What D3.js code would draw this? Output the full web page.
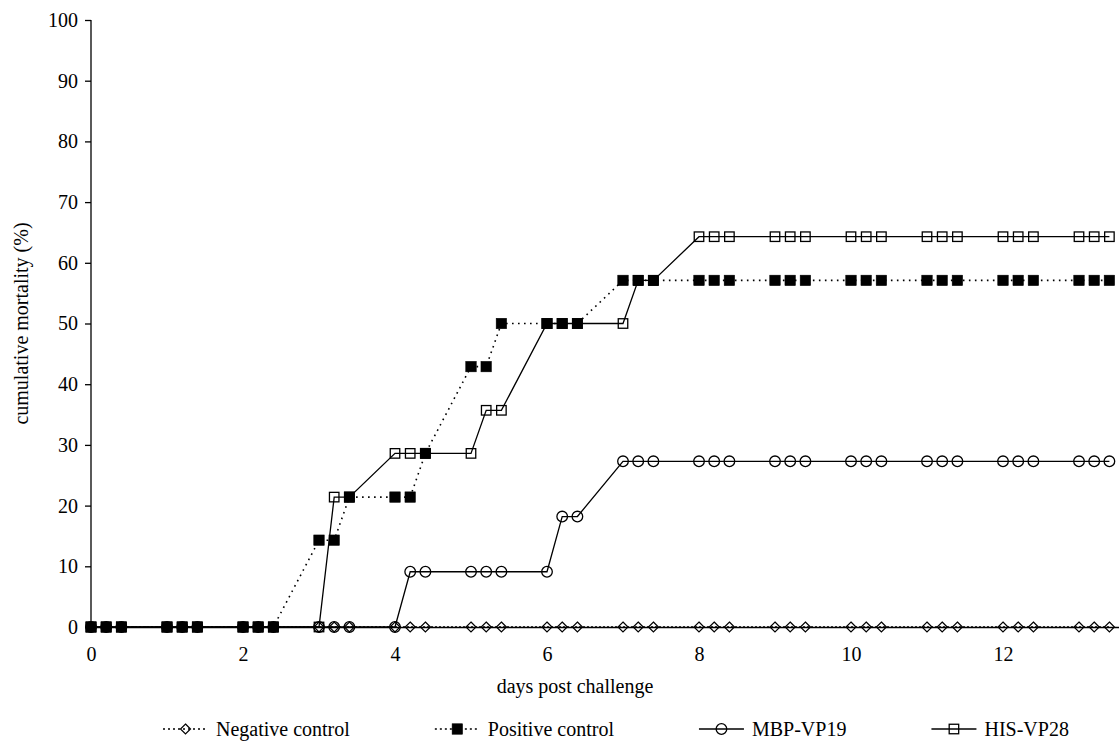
<!DOCTYPE html>
<html>
<head>
<meta charset="utf-8">
<script src="https://cdn.jsdelivr.net/npm/d3@7"></script>
<style>
  html, body { margin: 0; padding: 0; background: #fff; }
  svg { display: block; }
  text { font-family: "Liberation Serif", "Times New Roman", serif; fill: #000; }
</style>
</head>
<body>
<svg id="chart" width="1119" height="742"></svg>
<script>
// Sampling times (days post challenge), three readings per day
const days = [
  0, 0.2, 0.4, 1, 1.2, 1.4, 2, 2.2, 2.4, 3, 3.2, 3.4, 4, 4.2, 4.4,
  5, 5.2, 5.4, 6, 6.2, 6.4, 7, 7.2, 7.4, 8, 8.2, 8.4, 9, 9.2, 9.4,
  10, 10.2, 10.4, 11, 11.2, 11.4, 12, 12.2, 12.4, 13, 13.2, 13.4
];

// Cumulative mortality (%) per group
const negativeControl = [
  0, 0, 0, 0, 0, 0, 0, 0, 0, 0, 0, 0, 0, 0, 0,
  0, 0, 0, 0, 0, 0, 0, 0, 0, 0, 0, 0, 0, 0, 0,
  0, 0, 0, 0, 0, 0, 0, 0, 0, 0, 0, 0
];
const positiveControl = [
  0, 0, 0, 0, 0, 0, 0, 0, 0, 14.3, 14.3, 21.4, 21.4, 21.4, 28.6,
  42.9, 42.9, 50, 50, 50, 50, 57.1, 57.1, 57.1, 57.1, 57.1, 57.1, 57.1, 57.1, 57.1,
  57.1, 57.1, 57.1, 57.1, 57.1, 57.1, 57.1, 57.1, 57.1, 57.1, 57.1, 57.1
];
const mbpVP19 = [
  0, 0, 0, 0, 0, 0, 0, 0, 0, 0, 0, 0, 0, 9.1, 9.1,
  9.1, 9.1, 9.1, 9.1, 18.2, 18.2, 27.3, 27.3, 27.3, 27.3, 27.3, 27.3, 27.3, 27.3, 27.3,
  27.3, 27.3, 27.3, 27.3, 27.3, 27.3, 27.3, 27.3, 27.3, 27.3, 27.3, 27.3
];
const hisVP28 = [
  0, 0, 0, 0, 0, 0, 0, 0, 0, 0, 21.4, 21.4, 28.6, 28.6, 28.6,
  28.6, 35.7, 35.7, 50, 50, 50, 50, 57.1, 57.1, 64.3, 64.3, 64.3, 64.3, 64.3, 64.3,
  64.3, 64.3, 64.3, 64.3, 64.3, 64.3, 64.3, 64.3, 64.3, 64.3, 64.3, 64.3
];

const xTicks = [0, 2, 4, 6, 8, 10, 12];
const yTicks = [0, 10, 20, 30, 40, 50, 60, 70, 80, 90, 100];
const seriesNames = ["Negative control", "Positive control", "MBP-VP19", "HIS-VP28"];

// Series styling; drawing order keeps the filled squares on top
const series = [
  { name: seriesNames[0], values: negativeControl, marker: "diamond", dash: "2,2", fill: "none" },
  { name: seriesNames[2], values: mbpVP19, marker: "circle", dash: null, fill: "none" },
  { name: seriesNames[3], values: hisVP28, marker: "square", dash: null, fill: "none" },
  { name: seriesNames[1], values: positiveControl, marker: "square", dash: "1.6,4.4", fill: "#000" }
];

const svg = d3.select("#chart");
const x = d3.scaleLinear().domain([0, 13.6]).range([91, 91 + 13.6 * 76]);
const y = d3.scaleLinear().domain([0, 100]).range([627, 20]);

// Y axis
const yAxis = svg.append("g")
  .attr("transform", `translate(${x(0)},0)`)
  .call(d3.axisLeft(y).tickValues(yTicks).tickSize(6).tickPadding(7).tickFormat(d3.format("d")));
yAxis.selectAll("path, line").attr("stroke", "#000").attr("stroke-width", 1.3);
yAxis.select(".domain").attr("d", `M-0,${y(100)}V${y(0)}`);
yAxis.selectAll("text").style("font-size", "20px").style("font-family", "Liberation Serif");

// X axis (baseline line + labels, no tick marks)
const xAxis = svg.append("g")
  .attr("transform", `translate(0,${y(0)})`)
  .call(d3.axisBottom(x).tickValues(xTicks).tickSize(0).tickPadding(20).tickFormat(d3.format("d")));
xAxis.select(".domain").attr("stroke", "#000").attr("stroke-width", 1.3);
xAxis.selectAll("text").style("font-size", "20px").style("font-family", "Liberation Serif");

// Axis titles
svg.append("text")
  .attr("x", 575).attr("y", 693)
  .attr("text-anchor", "middle")
  .style("font-size", "20px")
  .text("days post challenge");

svg.append("text")
  .attr("transform", `translate(28,${(y(0) + y(100)) / 2}) rotate(-90)`)
  .attr("text-anchor", "middle")
  .style("font-size", "20px")
  .text("cumulative mortality (%)");

function drawMarker(g, type, fill, cx, cy) {
  if (type === "circle") {
    g.append("circle").attr("cx", cx).attr("cy", cy).attr("r", 5.3)
      .attr("fill", fill).attr("stroke", "#000").attr("stroke-width", 1.3);
  } else if (type === "square") {
    const s = fill === "none" ? 9.5 : 10.5;
    g.append("rect").attr("x", cx - s / 2).attr("y", cy - s / 2).attr("width", s).attr("height", s)
      .attr("fill", fill).attr("stroke", "#000").attr("stroke-width", fill === "none" ? 1.3 : 0.5);
  } else {
    const r = 5;
    g.append("path").attr("d", `M${cx},${cy - r}L${cx + r},${cy}L${cx},${cy + r}L${cx - r},${cy}Z`)
      .attr("fill", fill).attr("stroke", "#000").attr("stroke-width", 1.2);
  }
}

const line = d3.line().x((d, i) => x(days[i])).y(d => y(d));

series.forEach(s => {
  const g = svg.append("g");
  g.append("path")
    .attr("d", line(s.values))
    .attr("fill", "none")
    .attr("stroke", "#000")
    .attr("stroke-width", s.dash ? 1.6 : 1.3)
    .attr("stroke-dasharray", s.dash);
  s.values.forEach((v, i) => drawMarker(g, s.marker, s.fill, x(days[i]), y(v)));
});

// Legend along the bottom
const legendOrder = [
  { name: seriesNames[0], marker: "diamond", dash: "2,3", fill: "none" },
  { name: seriesNames[1], marker: "square", dash: "2,3", fill: "#000" },
  { name: seriesNames[2], marker: "circle", dash: null, fill: "none" },
  { name: seriesNames[3], marker: "square", dash: null, fill: "none" }
];
const legend = svg.append("g");
const legendY = 729;
let lx = 163;
legendOrder.forEach(item => {
  const g = legend.append("g");
  g.append("line")
    .attr("x1", lx).attr("x2", lx + 45).attr("y1", legendY).attr("y2", legendY)
    .attr("stroke", "#000").attr("stroke-width", item.dash ? 1.6 : 1.3)
    .attr("stroke-dasharray", item.dash);
  drawMarker(g, item.marker, item.fill, lx + 22.5, legendY);
  const t = g.append("text")
    .attr("x", lx + 53).attr("y", legendY + 7)
    .style("font-size", "20px")
    .text(item.name);
  lx = lx + 53 + t.node().getComputedTextLength() + 85;
});
</script>
</body>
</html>
